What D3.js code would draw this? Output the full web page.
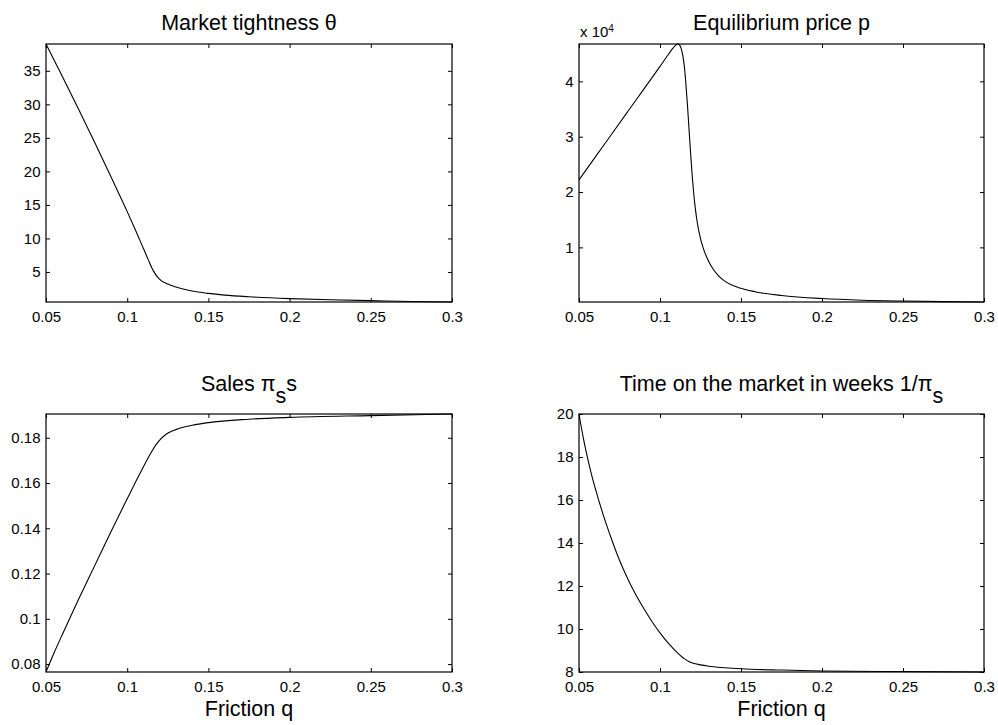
<!DOCTYPE html>
<html>
<head>
<meta charset="utf-8">
<script src="https://cdn.jsdelivr.net/npm/d3@7"></script>
<style>
  html, body { margin: 0; padding: 0; background: #fff; }
  svg text { font-family: "Liberation Sans", Arial, Helvetica, sans-serif; fill: #000; }
</style>
</head>
<body>
<svg id="fig" width="998" height="725"></svg>
<script>
// Friction q values shared by the x axes
const xTickValues = [0.05, 0.1, 0.15, 0.2, 0.25, 0.3];
const xTickLabels = ["0.05", "0.1", "0.15", "0.2", "0.25", "0.3"];

// Market tightness theta
const thetaQ = [0.05, 0.06, 0.07, 0.08, 0.09, 0.10, 0.105, 0.11, 0.113, 0.116, 0.12, 0.125, 0.13, 0.14, 0.15, 0.16, 0.175, 0.2, 0.225, 0.25, 0.275, 0.3];
const thetaV = [39.0, 34.2, 29.3, 24.3, 19.2, 14.0, 11.3, 8.5, 6.8, 5.2, 3.9, 3.2, 2.75, 2.15, 1.8, 1.55, 1.3, 1.02, 0.85, 0.72, 0.6, 0.52];
const thetaTicks = [5, 10, 15, 20, 25, 30, 35];

// Equilibrium price p
const priceQ = [0.05, 0.06, 0.07, 0.08, 0.09, 0.10, 0.105, 0.108, 0.110, 0.111, 0.112, 0.113, 0.114, 0.115, 0.116, 0.117, 0.118, 0.119, 0.120, 0.121, 0.122, 0.123, 0.125, 0.127, 0.130, 0.133, 0.136, 0.14, 0.145, 0.15, 0.16, 0.175, 0.2, 0.225, 0.25, 0.275, 0.3];
const priceV = [22200, 26300, 30400, 34500, 38600, 42700, 44800, 46000, 46600, 46750, 46600, 46000, 44800, 42800, 39500, 35500, 31000, 26500, 22500, 19200, 16600, 14500, 11600, 9600, 7500, 6000, 4900, 3900, 3100, 2600, 1900, 1300, 750, 450, 300, 200, 130];
const priceTicks = [10000, 20000, 30000, 40000];
const priceTickLabels = ["1", "2", "3", "4"];

// Sales pi_s s
const salesQ = [0.05, 0.055, 0.06, 0.065, 0.07, 0.08, 0.09, 0.095, 0.10, 0.105, 0.11, 0.115, 0.118, 0.12, 0.123, 0.126, 0.13, 0.14, 0.15, 0.175, 0.2, 0.25, 0.3];
const salesV = [0.0765, 0.0850, 0.0930, 0.1008, 0.1085, 0.1235, 0.1385, 0.1458, 0.1530, 0.1602, 0.1672, 0.1738, 0.1772, 0.1790, 0.1810, 0.1824, 0.1836, 0.1855, 0.1867, 0.1882, 0.1890, 0.1898, 0.1905];
const salesTicks = [0.08, 0.1, 0.12, 0.14, 0.16, 0.18];

// Time on the market in weeks 1/pi_s
const timeQ = [0.05, 0.0525, 0.055, 0.0575, 0.06, 0.065, 0.07, 0.075, 0.08, 0.085, 0.09, 0.095, 0.10, 0.105, 0.11, 0.115, 0.118, 0.12, 0.125, 0.13, 0.14, 0.15, 0.175, 0.2, 0.25, 0.3];
const timeV = [20.0, 18.95, 18.05, 17.25, 16.55, 15.3, 14.2, 13.2, 12.35, 11.6, 10.95, 10.35, 9.82, 9.35, 8.95, 8.62, 8.48, 8.42, 8.33, 8.27, 8.2, 8.15, 8.09, 8.05, 8.02, 8.0];
const timeTicks = [8, 10, 12, 14, 16, 18, 20];

const svg = d3.select("#fig");
const TITLE_SIZE = 21.5, TICK_SIZE = 15, TICK_LEN = 4;

function panel(opt) {
  const { left, top, width, height, q, v, yTicks, yLabels, title, xlabel } = opt;
  const g = svg.append("g").attr("transform", `translate(${left},${top})`);
  const x = d3.scaleLinear().domain(d3.extent(q)).range([0, width]);
  const y = d3.scaleLinear().domain(d3.extent(v)).range([height, 0]);
  const yFmt = yLabels ? (d, i) => yLabels[i] : d => String(d);

  // bottom and left axes carry the labels; top and right only mirror the ticks
  const bx = g.append("g").attr("transform", `translate(0,${height})`)
    .call(d3.axisBottom(x).tickValues(xTickValues).tickFormat((d, i) => xTickLabels[i])
      .tickSize(-TICK_LEN).tickPadding(9));
  const ly = g.append("g")
    .call(d3.axisLeft(y).tickValues(yTicks).tickFormat(yFmt).tickSize(-TICK_LEN).tickPadding(5.5));
  const tx = g.append("g")
    .call(d3.axisTop(x).tickValues(xTickValues).tickFormat("").tickSize(-TICK_LEN));
  const ry = g.append("g").attr("transform", `translate(${width},0)`)
    .call(d3.axisRight(y).tickValues(yTicks).tickFormat("").tickSize(-TICK_LEN));
  [bx, ly, tx, ry].forEach(a => {
    a.select(".domain").remove();
    a.selectAll("line").attr("stroke", "#000").attr("stroke-width", 1);
    a.selectAll("text").style("font-size", TICK_SIZE + "px")
      .style("font-family", '"Liberation Sans", Arial, sans-serif');
  });

  g.append("rect").attr("x", 0).attr("y", 0).attr("width", width).attr("height", height)
    .attr("fill", "none").attr("stroke", "#000").attr("stroke-width", 1.2);

  const line = d3.line().x((d, i) => x(q[i])).y(d => y(d)).curve(d3.curveMonotoneX);
  g.append("path").datum(v).attr("d", line)
    .attr("fill", "none").attr("stroke", "#000").attr("stroke-width", 1.1);

  // title, with optional subscript pieces
  const t = g.append("text").attr("x", width / 2).attr("y", opt.titleY)
    .attr("text-anchor", "middle").style("font-size", TITLE_SIZE + "px");
  title.forEach(part => {
    const s = t.append("tspan").text(part.text);
    if (part.sub) s.attr("dy", "0.55em");
    if (part.after) s.attr("dy", "-0.55em");
  });

  if (xlabel) {
    g.append("text").attr("x", width / 2).attr("y", height + 44)
      .attr("text-anchor", "middle").style("font-size", TITLE_SIZE + "px").text(xlabel);
  }
  return g;
}

panel({ left: 46, top: 44, width: 406, height: 258, q: thetaQ, v: thetaV, yTicks: thetaTicks,
  title: [{ text: "Market tightness θ" }], titleY: -14.5 });

const pg = panel({ left: 579, top: 44, width: 405, height: 258, q: priceQ, v: priceV, yTicks: priceTicks,
  yLabels: priceTickLabels, title: [{ text: "Equilibrium price p" }], titleY: -14.5 });
// exponent marker for the price axis
const ex = pg.append("text").attr("x", 1).attr("y", -7).style("font-size", TICK_SIZE + "px");
ex.append("tspan").text("x 10");
ex.append("tspan").attr("dy", "-0.55em").style("font-size", "10px").text("4");

panel({ left: 46, top: 414, width: 406, height: 258, q: salesQ, v: salesV, yTicks: salesTicks,
  title: [{ text: "Sales π" }, { text: "s", sub: true }, { text: "s", after: true }], titleY: -23,
  xlabel: "Friction q" });

panel({ left: 579, top: 414, width: 405, height: 258, q: timeQ, v: timeV, yTicks: timeTicks,
  title: [{ text: "Time on the market in weeks 1/π" }, { text: "s", sub: true }], titleY: -23,
  xlabel: "Friction q" });
</script>
</body>
</html>
